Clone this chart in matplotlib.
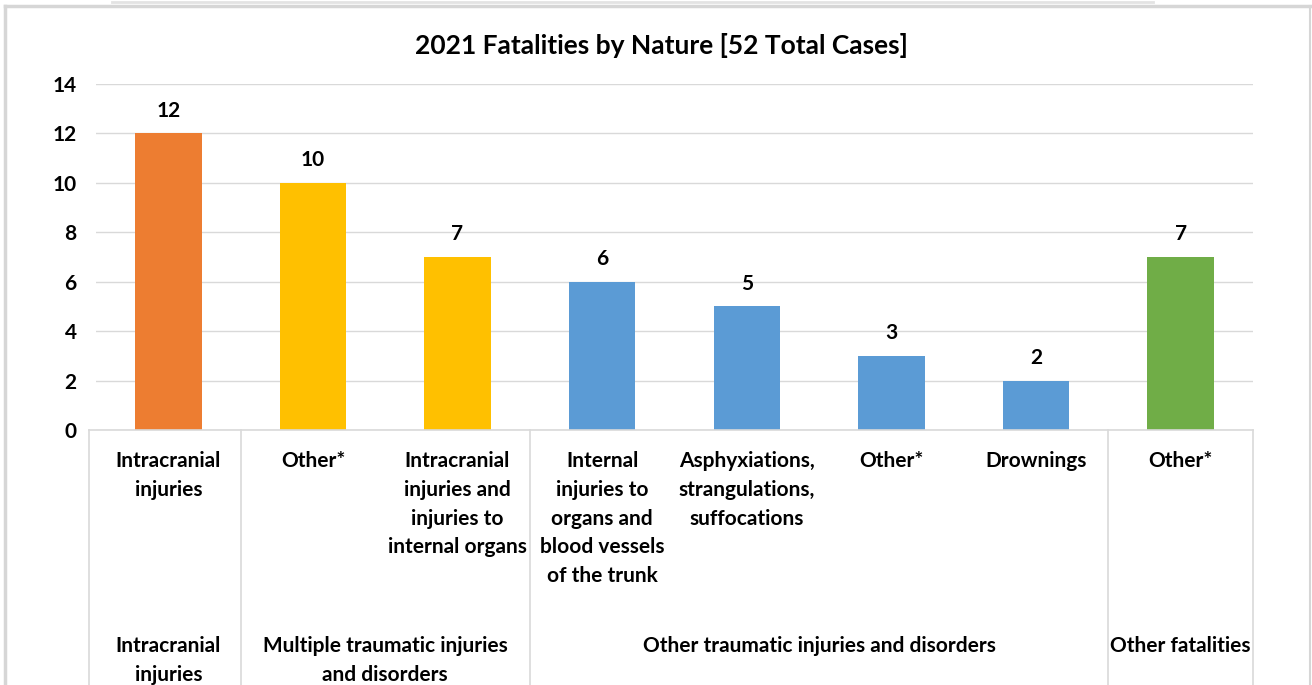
import matplotlib
matplotlib.use("Agg")
import matplotlib.pyplot as plt
from matplotlib.lines import Line2D
from matplotlib.transforms import blended_transform_factory

# ---- data ----
categories = [
    "Intracranial\ninjuries",
    "Other*",
    "Intracranial\ninjuries and\ninjuries to\ninternal organs",
    "Internal\ninjuries to\norgans and\nblood vessels\nof the trunk",
    "Asphyxiations,\nstrangulations,\nsuffocations",
    "Other*",
    "Drownings",
    "Other*",
]
values = [12, 10, 7, 6, 5, 3, 2, 7]
groups = [
    "Intracranial\ninjuries",
    "Multiple traumatic injuries\nand disorders",
    "Other traumatic injuries and disorders",
    "Other fatalities",
]
group_sizes = [1, 2, 4, 1]
group_colors = ["#ED7D31", "#FFC000", "#5B9BD5", "#70AD47"]
title = "2021 Fatalities by Nature [52 Total Cases]"
yticks = [0, 2, 4, 6, 8, 10, 12, 14]

plt.rcParams["font.family"] = ["Lato", "DejaVu Sans"]
plt.rcParams["font.weight"] = "bold"

FS = 15
W, H = 1312, 685
fig = plt.figure(figsize=(W / 100, H / 100), dpi=100)
ax = fig.add_axes([96 / W, 1 - 430 / H, (1253 - 96) / W, (430 - 84) / H])

bar_colors = []
for c, n in zip(group_colors, group_sizes):
    bar_colors += [c] * n
x = list(range(len(values)))
bars = ax.bar(x, values, width=0.46, color=bar_colors, zorder=3)
for xi, v in zip(x, values):
    ax.annotate(str(v), (xi, v), xytext=(0, 9), textcoords="offset points",
                ha="center", va="bottom", fontsize=FS, fontweight="bold", color="#000000")

ax.set_xlim(-0.5, len(values) - 0.5)
ax.set_ylim(0, 14)
ax.set_yticks(yticks)
ax.set_yticklabels([str(t) for t in yticks], fontsize=FS, fontweight="bold")
ax.tick_params(axis="y", length=0, pad=14)
ax.set_xticks([])
ax.grid(axis="y", color="#D9D9D9", linewidth=1, zorder=0)
for s in ["top", "right", "left", "bottom"]:
    ax.spines[s].set_visible(False)

fig.text(661 / W, 1 - 46 / H, title, ha="center", va="center", fontsize=19, fontweight="bold")

# category axis
tr = blended_transform_factory(ax.transData, fig.transFigure)
line_col = "#D9D9D9"
fig.add_artist(Line2D([89 / W, 1253 / W], [1 - 430 / H, 1 - 430 / H], color=line_col, lw=1.2))
bounds = [-0.55]
acc = -0.5
for n in group_sizes:
    acc += n
    bounds.append(acc)
for b in bounds:
    fig.add_artist(Line2D([b, b], [1 - 430 / H, 0], color=line_col, lw=1.2, transform=tr))

for xi, lab in zip(x, categories):
    fig.text(xi, 1 - 451 / H, lab, transform=tr, ha="center", va="top",
             multialignment="center", fontsize=FS, fontweight="bold", linespacing=1.55)

start = 0
for g, n in zip(groups, group_sizes):
    cx = start + (n - 1) / 2
    fig.text(cx, 1 - 636 / H, g, transform=tr, ha="center", va="top",
             multialignment="center", fontsize=FS, fontweight="bold", linespacing=1.55)
    start += n

# outer frame (screenshot border)
fc = "#D6D6D6"
fig.add_artist(Line2D([5 / W, 5 / W], [0, 1 - 6 / H], color=fc, lw=2.5))
fig.add_artist(Line2D([5 / W, 1311 / W], [1 - 6 / H, 1 - 6 / H], color=fc, lw=2.5))
fig.add_artist(Line2D([1310 / W, 1310 / W], [0, 1 - 6 / H], color=fc, lw=1.5))
fig.add_artist(Line2D([112 / W, 1153 / W], [1 - 2 / H, 1 - 2 / H], color="#E3E3E3", lw=2))

fig.savefig("out.png", dpi=100)
